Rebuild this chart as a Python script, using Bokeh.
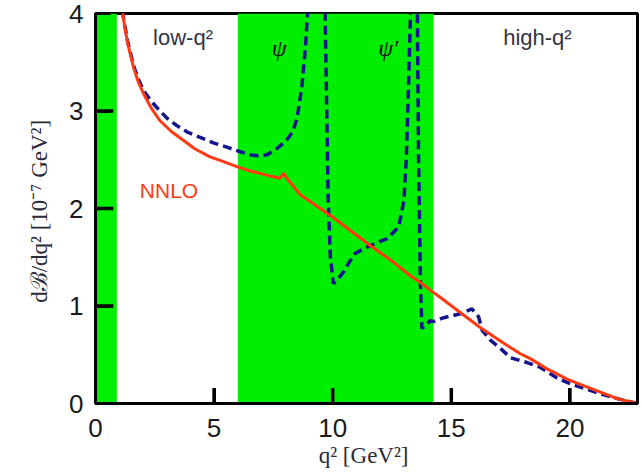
from bokeh.plotting import figure
from bokeh.models import Range1d, FixedTicker, Label
from bokeh.embed import file_html
from bokeh.resources import INLINE

# --- data ---
band_lo = [0.0, 6.0]
band_hi = [0.9, 14.25]

nnlo_q2 = [1.0, 1.17, 1.35, 1.6, 1.8, 2.02, 2.35, 2.72, 3.2, 3.7, 4.2, 4.83, 5.4,
           5.96, 6.45, 6.94, 7.4, 7.78, 7.92, 8.13, 8.63, 9.47, 10.0, 10.6, 11.58,
           12.5, 13.27, 13.7, 14.24, 14.53, 15.5, 16.22, 17.07, 17.91, 18.33, 19.0,
           19.88, 20.6, 21.29, 22.0, 22.85]
nnlo_br = [4.6, 3.96, 3.70, 3.45, 3.30, 3.18, 3.03, 2.90, 2.79, 2.70, 2.61, 2.53, 2.48,
           2.43, 2.39, 2.36, 2.33, 2.31, 2.36, 2.29, 2.14, 2.00, 1.91, 1.80, 1.62,
           1.46, 1.31, 1.24, 1.14, 1.09, 0.91, 0.78, 0.64, 0.51, 0.46, 0.36,
           0.25, 0.18, 0.117, 0.05, 0.0]

res_q2 = [1.0, 1.17, 1.35, 1.6, 1.8, 2.02, 2.35, 2.72, 3.0, 3.43, 3.9, 4.41, 5.0,
          5.54, 6.0, 6.52, 6.86, 7.22, 7.57, 7.92, 8.15, 8.35, 8.5, 8.7, 8.85,
          8.95, 9.2, 9.45, 9.68, 9.75, 9.81, 9.9, 10.03, 10.2, 10.46, 10.7, 10.95,
          11.58, 12.29, 12.78, 12.92, 13.0, 13.1, 13.18, 13.28, 13.42, 13.57,
          13.62, 13.7, 13.76, 13.9, 14.11, 14.25, 14.68, 15.38, 15.87, 16.15,
          16.3, 16.65, 17.14, 17.49, 18.19, 18.76, 19.46, 20.16, 21.29, 22.0, 22.85]
res_br = [4.6, 3.97, 3.72, 3.47, 3.33, 3.21, 3.10, 3.00, 2.93, 2.85, 2.78, 2.73, 2.67,
          2.63, 2.59, 2.55, 2.54, 2.55, 2.60, 2.67, 2.73, 2.81, 2.93, 3.25, 3.65,
          4.05, 5.5, 6.5, 4.0, 3.0, 2.1, 1.5, 1.23, 1.27, 1.35, 1.45, 1.54,
          1.62, 1.69, 1.81, 1.98, 2.08, 2.5, 3.1, 4.0, 6.0, 4.0,
          2.5, 1.2, 0.77, 0.80, 0.85, 0.84, 0.88, 0.92, 0.97, 0.89,
          0.75, 0.65, 0.55, 0.47, 0.42, 0.37, 0.26, 0.19, 0.10, 0.05, 0.0]

x_ticks = [0, 5, 10, 15, 20]
y_ticks = [0, 1, 2, 3, 4]

p = figure(width=642, height=473, x_range=Range1d(0, 22.85), y_range=Range1d(0, 4),
           output_backend="svg", toolbar_location=None,
           min_border_left=95, min_border_right=5, min_border_top=13, min_border_bottom=70)
p.grid.visible = False
p.background_fill_color = "white"
p.border_fill_color = "white"
p.outline_line_color = "black"
p.outline_line_width = 3
p.outline_line_alpha = 1

# green vetoed / resonance bands
p.quad(left=band_lo, right=band_hi, bottom=[0, 0], top=[4, 4],
       fill_color="#00ee00", line_color=None)

# inward tick marks at the tick positions (drawn before the curves)
tick_xs = [[t, t] for t in x_ticks if t > 0] + [[0, 0.75] for t in y_ticks if 0 < t < 4]
tick_ys = [[0, 0.16] for t in x_ticks if t > 0] + [[t, t] for t in y_ticks if 0 < t < 4]
p.multi_line(xs=tick_xs, ys=tick_ys, line_color="#000000", line_width=3.5,
             line_alpha=1.0)

p.line(res_q2, res_br, line_color="#14148c", line_width=3.5, line_dash="9 5")
p.line(nnlo_q2, nnlo_br, line_color="#ff3a12", line_width=3)

for ax, ticks in ((p.xaxis, x_ticks), (p.yaxis, y_ticks)):
    ax.ticker = FixedTicker(ticks=ticks)
    ax.axis_line_width = 3
    ax.axis_line_color = "black"
    ax.major_tick_in = 15
    ax.major_tick_out = 0
    ax.major_tick_line_width = 3
    ax.major_tick_line_color = "black"
    ax.minor_tick_line_color = None
    ax.major_label_text_font = "Liberation Sans"
    ax.major_label_text_font_size = "26px"
    ax.major_label_text_color = "#1a1a1a"
    ax.axis_label_text_font = "Liberation Serif"
    ax.axis_label_text_font_style = "normal"
    ax.axis_label_text_color = "#2a2a3a"

p.xaxis.axis_label_text_font_size = "23px"
p.yaxis.axis_label_text_font_size = "23px"
p.xaxis.major_label_standoff = 15
p.yaxis.major_label_standoff = 12
p.xaxis.axis_label = "q²  [GeV²]"
p.xaxis.axis_label_standoff = 3
p.yaxis.axis_label = "dℬ/dq²  [10⁻⁷ GeV²]"
p.yaxis.axis_label_standoff = 14

def lab(x, y, t, font="Liberation Sans", size="22px", color="#333344", style="normal"):
    p.add_layout(Label(x=x, y=y, text=t, text_font=font, text_font_size=size,
                       text_color=color, text_font_style=style,
                       text_align="center", text_baseline="middle"))

lab(3.69, 3.75, "low-q²")
lab(18.63, 3.75, "high-q²")
lab(3.1, 2.18, "NNLO", color="#ff3a12", size="21px")
lab(7.74, 3.65, "ψ", font="Liberation Serif", size="24px", color="#111111", style="italic")
lab(12.34, 3.65, "ψ′", font="Liberation Serif", size="24px", color="#111111", style="italic")

open("out.html", "w").write(file_html(p, INLINE))
